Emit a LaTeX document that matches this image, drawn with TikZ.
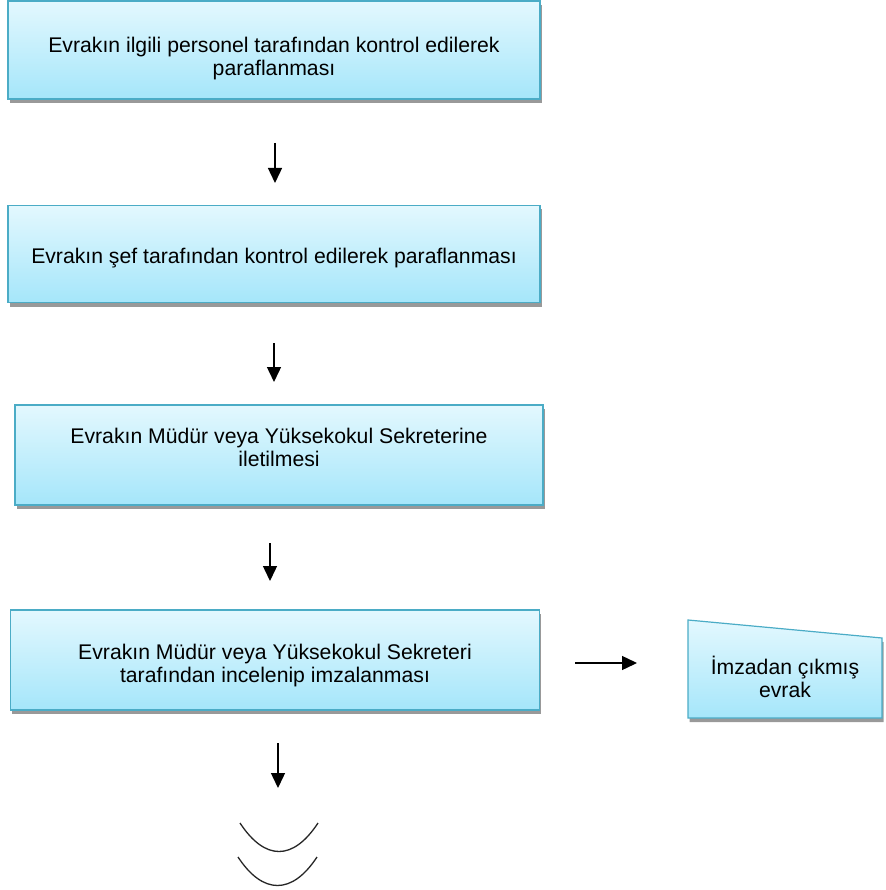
\documentclass[tikz,border=0pt]{standalone}
\usepackage{fontspec}
\setmainfont{Liberation Sans}
\usetikzlibrary{arrows.meta, shadows}

\definecolor{boxline}{HTML}{4BACC6}
\definecolor{boxtop}{HTML}{E3F8FE}
\definecolor{boxbot}{HTML}{A5E6FA}

\tikzset{
  boxfill/.style={draw=boxline, line width=1.2pt, top color=boxtop, bottom color=boxbot,
    drop shadow={shadow xshift=1.5pt, shadow yshift=-4pt, fill=black!40, opacity=1}},
  stepbox/.style={boxfill, align=center, inner sep=0pt, font=\fontsize{21.2}{23}\selectfont},
  flow/.style={-{Triangle[length=15pt,width=14pt]}, line width=1.4pt}
}

\begin{document}
\begin{tikzpicture}[x=1pt, y=-1pt]
  \useasboundingbox (0,0) rectangle (885,890);

  % steps
  \node[stepbox, minimum width=532pt, minimum height=98pt, text height=54.5pt] (perspar) at (274,50) {Evrakın ilgili personel tarafından kontrol edilerek\\paraflanması};
  \node[stepbox, minimum width=532pt, minimum height=97pt, text height=23.5pt] (sefpar) at (274,254) {Evrakın şef tarafından kontrol edilerek paraflanması};
  \node[stepbox, minimum width=528pt, minimum height=100pt, text depth=14.5pt] (iletim) at (279,455) {Evrakın Müdür veya Yüksekokul Sekreterine\\iletilmesi};
  \node[stepbox, minimum width=529pt, minimum height=100pt, text height=48.5pt] (imza) at (275,660) {Evrakın Müdür veya Yüksekokul Sekreteri\\tarafından incelenip imzalanması};

  % manual input
  \draw[boxfill] (688,620) -- (882,638) -- (882,718) -- (688,718) -- cycle;
  \node[align=center, font=\fontsize{21.2}{23}\selectfont] (cikmis) at (785,677) {İmzadan çıkmış\\evrak};

  % arrows
  \coordinate (a1s) at (275,143);
  \coordinate (a1e) at (275,183);
  \coordinate (a2s) at (274,343);
  \coordinate (a2e) at (274,382);
  \coordinate (a3s) at (270,543);
  \coordinate (a3e) at (270,581);
  \coordinate (a4s) at (278,743);
  \coordinate (a4e) at (278,788);
  \coordinate (a5s) at (575,663);
  \coordinate (a5e) at (637,663);
  \draw[flow] (a1s) -- (a1e);
  \draw[flow] (a2s) -- (a2e);
  \draw[flow] (a3s) -- (a3e);
  \draw[flow] (a4s) -- (a4e);
  \draw[flow] (a5s) -- (a5e);

  % end
  \draw[line width=1.3pt, black!85] (240,823) .. controls (265,861) and (293,861) .. (318,823);
  \draw[line width=1.3pt, black!85] (238,857) .. controls (263,895) and (292,895) .. (317,857);
\end{tikzpicture}
\end{document}
